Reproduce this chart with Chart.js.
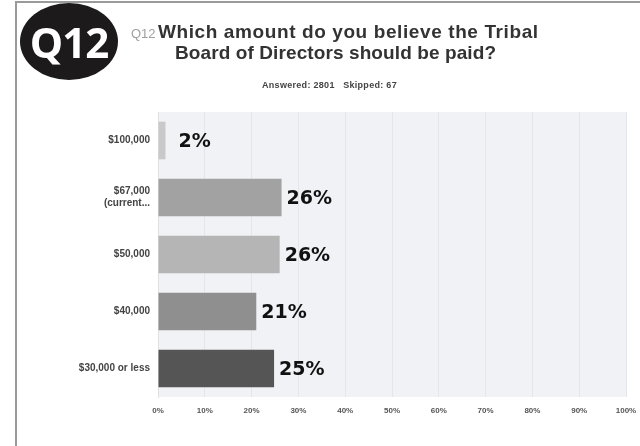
<!DOCTYPE html>
<html>
<head>
<meta charset="utf-8">
<script src="https://cdn.jsdelivr.net/npm/chart.js@4"></script>
<style>
  html, body { margin: 0; padding: 0; background: #fff; }
  body { width: 640px; height: 446px; position: relative; overflow: hidden; font-family: 'Liberation Sans', Arial, sans-serif; }
  #frame { position: absolute; left: 15px; top: 1px; width: 640px; height: 460px; border-left: 2px solid #9a9a9a; border-top: 2px solid #9a9a9a; }
  #badge { position: absolute; left: 20px; top: 3px; width: 98px; height: 77px; border-radius: 50%; background: #1c1a1a;
           color: #fff; font-family: 'Open Sans', 'Noto Sans', sans-serif; font-weight: 700; font-size: 42px; line-height: 77px; text-align: center; letter-spacing: -1px; }
  #qnum { position: absolute; left: 131px; top: 26px; font-size: 13px; color: #a0a0a0; }
  .t { position: absolute; font-size: 19px; font-weight: 700; color: #333; white-space: nowrap; }
  #t1 { left: 158px; top: 21px; letter-spacing: 0.6px; }
  #t2 { left: 175px; top: 42px; letter-spacing: 0.1px; }
  #stats { position: absolute; left: 262px; top: 80px; font-size: 9px; font-weight: 700; color: #444; letter-spacing: 0.3px; white-space: nowrap; }
  #wrap { position: absolute; left: 0; top: 0; width: 640px; height: 446px; }
</style>
</head>
<body>
<div id="frame"></div>
<div id="wrap"><canvas id="chart"></canvas></div>
<div id="badge">Q12</div>
<div id="qnum">Q12</div>
<div class="t" id="t1">Which amount do you believe the Tribal</div>
<div class="t" id="t2">Board of Directors should be paid?</div>
<div id="stats">Answered: 2801&nbsp;&nbsp;&nbsp;Skipped: 67</div>
<script>
// data (bar lengths estimated, labels are the printed rounded values)
const categories = ['$100,000', ['$67,000', '(current...'], '$50,000', '$40,000', '$30,000 or less'];
const percents = [1.6, 26.4, 26.0, 21.0, 24.8];
const shownLabels = ['2%', '26%', '26%', '21%', '25%'];
const barColors = ['#c9c9c9', '#a2a2a2', '#b5b5b5', '#8f8f8f', '#555555'];
const xTicks = [0, 10, 20, 30, 40, 50, 60, 70, 80, 90, 100];

const plotBg = {
  id: 'plotBg',
  beforeDraw(chart) {
    const { ctx, chartArea: a } = chart;
    ctx.save();
    ctx.fillStyle = '#f0f2f5';
    ctx.fillRect(a.left, a.top, a.right - a.left, a.bottom - a.top);
    ctx.restore();
  }
};

const valueLabels = {
  id: 'valueLabels',
  afterDatasetsDraw(chart) {
    const { ctx } = chart;
    const meta = chart.getDatasetMeta(0);
    ctx.save();
    ctx.font = 'bold 19px "DejaVu Sans"';
    ctx.fillStyle = '#111';
    ctx.textBaseline = 'middle';
    meta.data.forEach((bar, i) => {
      const gap = percents[i] < 5 ? 13 : 5;
      ctx.fillText(shownLabels[i], bar.x + gap, bar.y + 2);
    });
    ctx.restore();
  }
};

new Chart(document.getElementById('chart'), {
  type: 'bar',
  data: {
    labels: categories,
    datasets: [{
      data: percents,
      backgroundColor: barColors,
      borderWidth: 0,
      barPercentage: 0.66,
      categoryPercentage: 1
    }]
  },
  options: {
    indexAxis: 'y',
    responsive: true,
    maintainAspectRatio: false,
    animation: false,
    layout: { padding: { top: 112, right: 14, left: 0, bottom: 0 } },
    plugins: { legend: { display: false }, tooltip: { enabled: false } },
    scales: {
      x: {
        min: 0, max: 100,
        afterBuildTicks: s => { s.ticks = xTicks.map(v => ({ value: v })); },
        afterFit: s => { s.height = 49; s.paddingLeft = 0; s.paddingRight = 0; },
        grid: { color: '#e3e6ea', drawTicks: false },
        border: { display: false },
        ticks: { padding: 9, color: '#555', font: { size: 8, weight: 'bold', family: 'Liberation Sans' }, callback: v => v + '%' }
      },
      y: {
        afterFit: s => { s.width = 158; },
        grid: { display: false, drawTicks: false },
        border: { color: '#e0e0e0' },
        ticks: { padding: 8, color: '#444', font: { size: 10, weight: 'bold', family: 'Liberation Sans' } }
      }
    }
  },
  plugins: [plotBg, valueLabels]
});
</script>
</body>
</html>
